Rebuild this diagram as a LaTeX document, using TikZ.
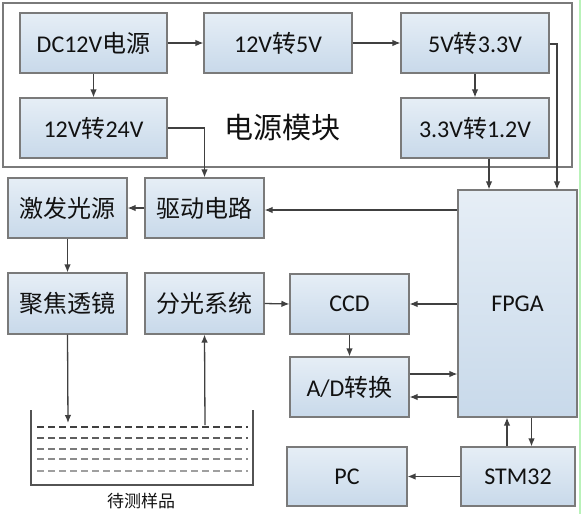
\documentclass[tikz,border=0pt]{standalone}
\usepackage{fontspec}
\setmainfont{Carlito}
\newfontfamily\cjk{Noto Sans CJK SC}
\newcommand{\zh}[1]{{\cjk #1}}
\usetikzlibrary{arrows.meta,calc}
\definecolor{boxtop}{HTML}{E6EEF6}
\definecolor{boxbot}{HTML}{C8D9EA}
\definecolor{boxline}{HTML}{7A7A7A}
\definecolor{conn}{HTML}{404040}
\definecolor{txt}{HTML}{111111}
\tikzset{
  blk/.style={draw=boxline, line width=1.1pt, top color=boxtop, bottom color=boxbot,
    inner sep=0pt, font=\fontsize{24}{26}\selectfont, text=txt},
  arr/.style={draw=conn, line width=1.3pt, -{Latex[length=8pt,width=6.5pt]}},
  ln/.style={draw=conn, line width=1.3pt},
  liq/.style={line width=1.1pt, dash pattern=on 7pt off 4pt},
}
\begin{document}
\begin{tikzpicture}[x=1pt,y=-1pt]
\useasboundingbox (0,0) rectangle (581,514);
\fill[white] (0,0) rectangle (581,514);
\draw[draw=none, fill=green!25!white!90!gray] (578.5,0) rectangle (581,514);
% power module frame
\node[draw=boxline, line width=1.1pt, minimum width=569pt, minimum height=164pt, inner sep=0pt] (pm) at (287.5,85) {};
\node[font=\fontsize{29}{30}\selectfont\cjk, text=txt, anchor=center] (pmlabel) at (282,128) {电源模块};
% boxes
\node[blk, minimum width=147pt, minimum height=60pt] (dc) at (93.5,43) {DC12V\zh{电源}};
\node[blk, minimum width=148pt, minimum height=60pt] (b5) at (278,43) {12V\zh{转}5V};
\node[blk, minimum width=148pt, minimum height=60pt] (b33) at (475,43) {5V\zh{转}3.3V};
\node[blk, minimum width=147pt, minimum height=60pt] (b24) at (93.5,128) {12V\zh{转}24V};
\node[blk, minimum width=148pt, minimum height=60pt] (b12) at (475,128) {3.3V\zh{转}1.2V};
\node[blk, minimum width=119pt, minimum height=60pt] (jifa) at (67.5,208) {\zh{激发光源}};
\node[blk, minimum width=119pt, minimum height=60pt] (qudong) at (204.5,208) {\zh{驱动电路}};
\node[blk, minimum width=119pt, minimum height=227pt] (fpga) at (517.5,303.5) {FPGA};
\node[blk, minimum width=119pt, minimum height=61pt] (juji) at (67.5,303.5) {\zh{聚焦透镜}};
\node[blk, minimum width=119pt, minimum height=61pt] (fenguang) at (204.5,303.5) {\zh{分光系统}};
\node[blk, minimum width=119pt, minimum height=60pt] (ccd) at (349.5,304) {CCD};
\node[blk, minimum width=119pt, minimum height=60pt] (ad) at (349.5,387) {A/D\zh{转换}};
\node[blk, minimum width=120pt, minimum height=59pt] (pc) at (347,476.5) {PC};
\node[blk, minimum width=114pt, minimum height=59pt] (stm) at (518,476.5) {STM32};
% connectors in power module
\draw[arr] (dc.east) -- (b5.west);
\draw[arr] (b5.east) -- (b33.west);
\draw[arr] (dc.south) -- (b24.north);
\draw[arr] (b33.south) -- (b12.north);
\draw[arr] (b24.east) -| (qudong.north);
\draw[arr] ([yshift=-1pt]b33.east) -| ([xshift=39.5pt]fpga.north);
\draw[arr] ([xshift=14pt]b12.south) -- ([xshift=14pt]b12.south |- fpga.north);
% others
\draw[arr] ([yshift=-2pt]fpga.west |- qudong.east) -- ([yshift=-2pt]qudong.east);
\draw[arr] (qudong.west) -- (jifa.east);
\draw[arr] (jifa.south) -- (juji.north);
\draw[arr] (fenguang.east) -- (ccd.west);
\draw[arr] (fpga.west |- ccd.east) -- (ccd.east);
\draw[arr] (ccd.south) -- (ad.north);
\draw[arr] ([yshift=-10pt]fpga.west |- ad.east) -- ([yshift=-10pt]ad.east);
\draw[arr] ([yshift=13pt]ad.east) -- ([yshift=13pt]fpga.west |- ad.east);
\draw[arr] (stm.west) -- (pc.east);
\draw[arr] ([xshift=-11pt]stm.north) -- ([xshift=-11pt]stm.north |- fpga.south);
\draw[arr] ([xshift=14pt]fpga.south) -- ([xshift=14pt]fpga.south |- stm.north);
% sample container
\coordinate (inpt) at (68,423);
\coordinate (outpt) at (205,425);
\draw[arr] (juji.south) -- (inpt);
\draw[arr] (outpt) -- (fenguang.south);
\draw[ln, draw=conn!90] (31,410) -- (31,485) -- (253,485) -- (253,410);
\draw[liq, draw=conn] (37,427) -- (248,427);
\draw[liq, draw=conn!85] (37,438) -- (248,438);
\draw[liq, draw=conn!70] (37,449) -- (248,449);
\draw[liq, draw=conn!60] (37,459) -- (248,459);
\draw[liq, draw=conn!50] (37,471) -- (248,471);
\node[font=\fontsize{17}{18}\selectfont\cjk, text=txt] (sample) at (141,501) {待测样品};
\end{tikzpicture}
\end{document}
